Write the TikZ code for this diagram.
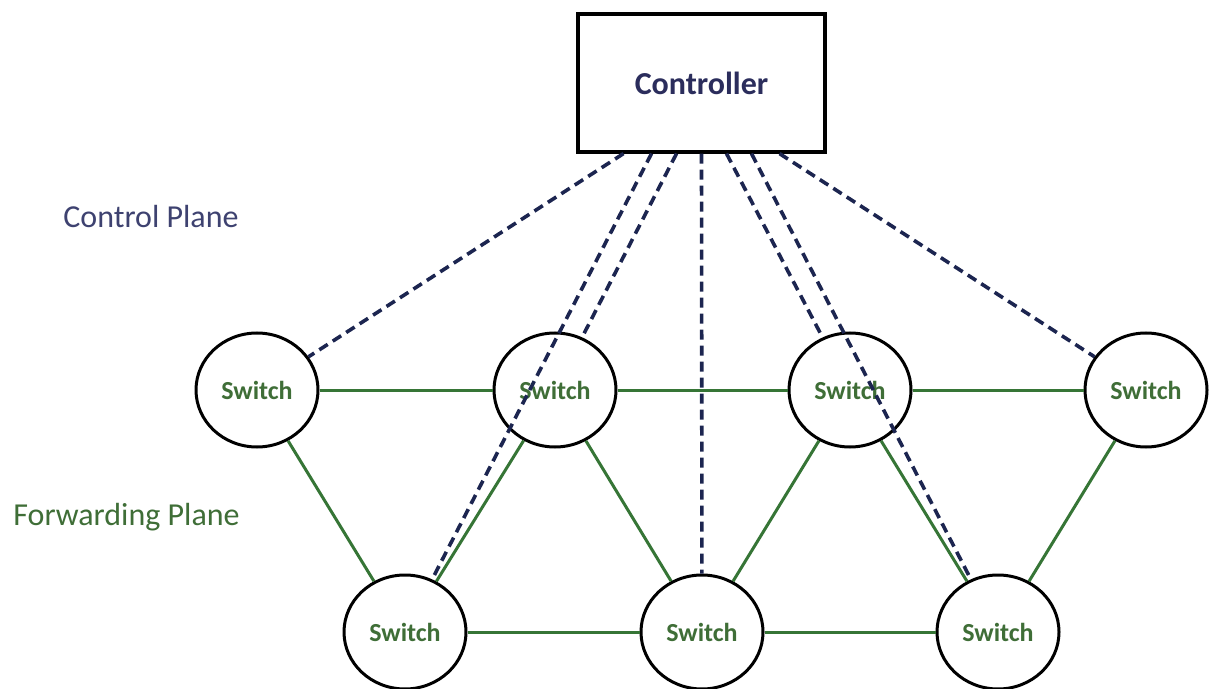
\documentclass[tikz,border=0pt]{standalone}
\usepackage{fontspec}
\setmainfont{Carlito}
\usetikzlibrary{shapes.geometric,calc}
\definecolor{ctrlnavy}{HTML}{2B2D5C}
\definecolor{planenavy}{HTML}{3E4270}
\definecolor{dashnavy}{HTML}{1C2550}
\definecolor{fwdgreen}{HTML}{3F6E37}
\definecolor{linkgreen}{HTML}{367536}
\tikzset{
  switchnode/.style={ellipse, draw=black, line width=1.5pt, fill=white,
    minimum width=61pt, minimum height=57pt, inner sep=0pt,
    font=\fontsize{13}{15}\selectfont\bfseries, text=fwdgreen},
  ctrlbox/.style={rectangle, draw=black, line width=1.6pt, fill=white,
    minimum width=123.5pt, minimum height=69pt, inner sep=0pt,
    font=\fontsize{16}{19}\selectfont\bfseries, text=ctrlnavy},
  planelabel/.style={anchor=base west, inner sep=0pt,
    font=\fontsize{16}{19}\selectfont},
  datalink/.style={draw=linkgreen, line width=1.5pt},
  ctrllink/.style={draw=dashnavy, line width=1.8pt, dash pattern=on 5pt off 3pt}
}
\begin{document}
\begin{tikzpicture}[x=0.5pt,y=-0.5pt]
  \useasboundingbox (0,0) rectangle (1209,689);

  % controller
  \node[ctrlbox] (ctrl) at (701.5,83) {Controller};

  % plane labels
  \node[planelabel, text=planenavy] (cplane) at (63,228) {Control Plane};
  \node[planelabel, text=fwdgreen] (fplane) at (13,525) {Forwarding Plane};

  % switches: upper row
  \node[switchnode] (s1) at (257,390) {Switch};
  \node[switchnode] (s2) at (555,390) {Switch};
  \node[switchnode] (s3) at (850,390) {Switch};
  \node[switchnode] (s4) at (1146,390) {Switch};
  % switches: lower row
  \node[switchnode] (b1) at (405,632) {Switch};
  \node[switchnode] (b2) at (702,632) {Switch};
  \node[switchnode] (b3) at (998,632) {Switch};

  % forwarding links
  \draw[datalink] (s1) -- (s2);
  \draw[datalink] (s2) -- (s3);
  \draw[datalink] (s3) -- (s4);
  \draw[datalink] (b1) -- (b2);
  \draw[datalink] (b2) -- (b3);
  \draw[datalink] (s1) -- (b1);
  \draw[datalink] (b1) -- (s2);
  \draw[datalink] (s2) -- (b2);
  \draw[datalink] (b2) -- (s3);
  \draw[datalink] (s3) -- (b3);
  \draw[datalink] (b3) -- (s4);

  % control links from the controller's lower edge
  \coordinate (c1) at ($(ctrl.south)+(-78,0)$);
  \coordinate (c2) at ($(ctrl.south)+(-50,0)$);
  \coordinate (c3) at ($(ctrl.south)+(-25,0)$);
  \coordinate (c4) at ($(ctrl.south)+(0,0)$);
  \coordinate (c5) at ($(ctrl.south)+(25,0)$);
  \coordinate (c6) at ($(ctrl.south)+(50,0)$);
  \coordinate (c7) at ($(ctrl.south)+(78,0)$);
  \draw[ctrllink] (c1) -- (s1);
  \draw[ctrllink] (c2) -- (b1);
  \draw[ctrllink] (c3) -- (s2);
  \draw[ctrllink] (c4) -- (b2);
  \draw[ctrllink] (c5) -- (s3);
  \draw[ctrllink] (c6) -- (b3);
  \draw[ctrllink] (c7) -- (s4);
\end{tikzpicture}
\end{document}
